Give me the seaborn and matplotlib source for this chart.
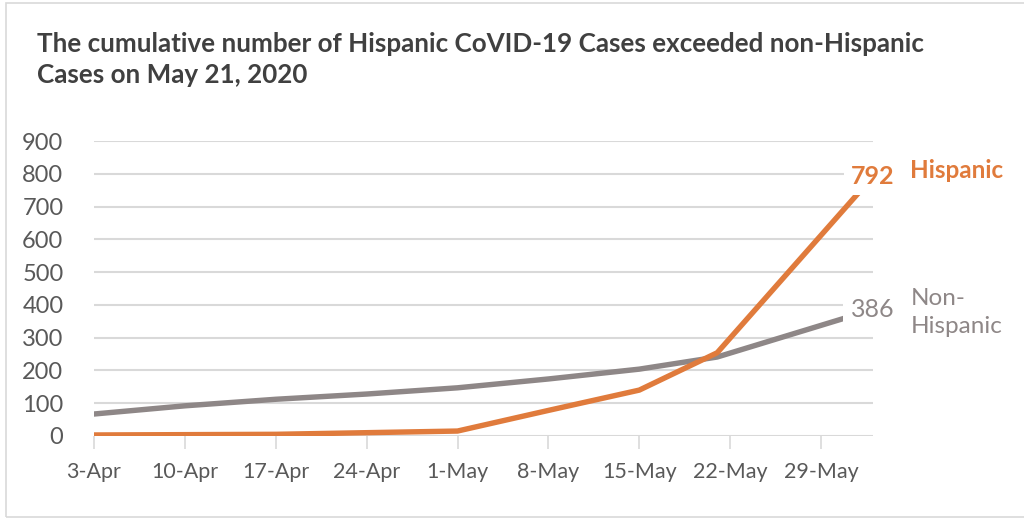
import numpy as np
import pandas as pd
import seaborn as sns
import matplotlib.pyplot as plt
from matplotlib.patches import Rectangle

# Cumulative cases
dates = ['2020-04-03', '2020-04-10', '2020-04-17', '2020-04-24', '2020-05-01',
         '2020-05-08', '2020-05-15', '2020-05-21', '2020-06-02']
hispanic = [3, 4, 5, 10, 15, 78, 140, 254, 792]
non_hispanic = [67, 92, 112, 128, 147, 174, 204, 241, 386]
tick_dates = pd.date_range('2020-04-03', '2020-05-29', freq='7D')
tick_labels = ['3-Apr', '10-Apr', '17-Apr', '24-Apr', '1-May', '8-May', '15-May', '22-May', '29-May']

orange = '#E07B3C'
grey = '#8E8787'
text_grey = '#595959'

df = pd.DataFrame({
    'date': pd.to_datetime(dates * 2),
    'cases': hispanic + non_hispanic,
    'group': ['Hispanic'] * len(dates) + ['Non-Hispanic'] * len(dates),
})

sns.set_style('white')
plt.rcParams['font.family'] = ['Lato', 'DejaVu Sans']

fig = plt.figure(figsize=(10.24, 5.19), dpi=100)
ax = fig.add_axes([0.0918, 0.160, 0.7607, 0.568])

sns.lineplot(data=df, x='date', y='cases', hue='group',
             palette={'Hispanic': orange, 'Non-Hispanic': grey},
             hue_order=['Non-Hispanic', 'Hispanic'],
             linewidth=3.9, legend=False, ax=ax, zorder=3)

ax.set_xlim(pd.Timestamp(dates[0]), pd.Timestamp(dates[-1]))
ax.set_ylim(0, 900)
ax.set_yticks(range(0, 901, 100))
ax.set_xticks(tick_dates)
ax.set_xticklabels(tick_labels)
ax.set_xlabel('')
ax.set_ylabel('')

ax.grid(axis='y', color='#D9D9D9', linewidth=1.5)
ax.set_axisbelow(True)
for s in ax.spines.values():
    s.set_visible(False)
ax.tick_params(axis='x', which='both', bottom=True, length=9, width=1.2,
               color='#D9D9D9', labelsize=15.5, labelcolor=text_grey, pad=10)
ax.tick_params(axis='y', length=0, labelsize=17, labelcolor=text_grey, pad=22)

# end-of-line labels
last = pd.Timestamp(dates[-1])
ax.text(last, hispanic[-1], str(hispanic[-1]), ha='center', va='center',
        fontsize=18, fontweight='bold', color=orange, zorder=5, clip_on=False,
        bbox=dict(facecolor='white', edgecolor='none', pad=5))
ax.text(last, non_hispanic[-1], str(non_hispanic[-1]), ha='center', va='center',
        fontsize=18, color=grey, zorder=5, clip_on=False,
        bbox=dict(facecolor='white', edgecolor='none', pad=6))
ax.annotate('Hispanic', xy=(last, hispanic[-1]), xytext=(27, 4),
            textcoords='offset points', ha='left', va='center',
            fontsize=17.5, fontweight='bold', color=orange, annotation_clip=False)
ax.annotate('Non-\nHispanic', xy=(last, non_hispanic[-1]), xytext=(27, -2),
            textcoords='offset points', ha='left', va='center',
            fontsize=17.5, color=grey, linespacing=1.4, annotation_clip=False)

fig.text(0.036, 0.915, 'The cumulative number of Hispanic CoVID-19 Cases exceeded non-Hispanic',
         fontsize=18.7, fontweight='bold', color='#404040', va='center')
fig.text(0.036, 0.855, 'Cases on May 21, 2020',
         fontsize=18.7, fontweight='bold', color='#404040', va='center')

fig.patches.append(Rectangle((0.006, 0.004), 1.2, 0.99, transform=fig.transFigure,
                             fill=False, edgecolor='#D9D9D9', linewidth=1.2))

fig.savefig('out.png', dpi=100)
